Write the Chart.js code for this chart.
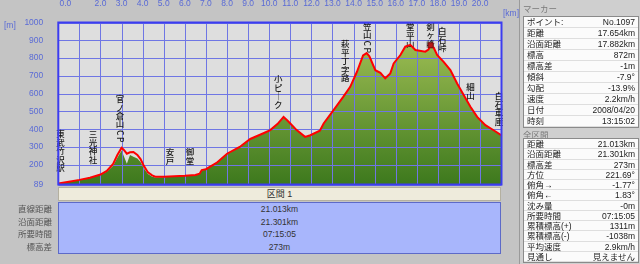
<!DOCTYPE html>
<html>
<head>
<meta charset="utf-8">
<script src="https://cdn.jsdelivr.net/npm/chart.js@4.4.1/dist/chart.umd.min.js"></script>
<style>
body { margin:0; width:640px; height:264px; background:#c4c4c4; overflow:hidden; position:relative;
       font-family:"Liberation Sans","Noto Sans CJK JP",sans-serif; }
#wrap { position:absolute; left:0; top:0; width:520px; height:200px; }
.unit { position:absolute; color:#5a6bd6; font-size:8.5px; }
#band { position:absolute; left:58px; top:187px; width:441px; height:12px; background:#eeebdc;
        border:1px solid #b4b0a0; font-size:9px; color:#333; text-align:center; line-height:12px; }
#sect { position:absolute; left:58px; top:202px; width:441px; height:50px; background:#a8b6fc;
        border:1px solid #5d6ac8; }
#sect div { height:12.5px; line-height:12.5px; text-align:center; font-size:8.5px; color:#333; }
#sectLbl { position:absolute; left:0; top:203px; width:52px; }
#sectLbl div { height:12.5px; line-height:12.5px; text-align:right; font-size:8.5px; color:#555; }
#side { position:absolute; left:519px; top:0; width:121px; height:264px; border-left:1px solid #9a9a9a; background:#cfcfcf; }
.hdr { position:absolute; left:3px; font-size:8.5px; color:#7a7a7a; }
.tbl { position:absolute; left:3px; width:114px; background:#fbfbfb; border:1px solid #8a8a8a; }
.tbl div { position:relative; border-bottom:1px solid #dedede; font-size:8.5px; color:#222; box-sizing:border-box; padding:0 3px; }
.tbl span { position:absolute; right:3px; }
</style>
</head>
<body>
<div id="wrap"><canvas id="chart" width="520" height="200"></canvas></div>
<div class="unit" style="left:4px;top:20px">[m]</div>
<div class="unit" style="left:503px;top:8px">[km]</div>
<div id="band">区間 1</div>
<div id="sectLbl"></div>
<div id="sect"></div>
<div id="side">
  <div class="hdr" style="top:2px">マーカー</div>
  <div class="tbl" id="t1" style="top:16px"></div>
  <div class="hdr" style="top:128px">全区間</div>
  <div class="tbl" id="t2" style="top:138px"></div>
</div>

<script>
// 距離 (km) と標高 (m)
const distKm = [0, 0.5, 1.0, 1.5, 2.0, 2.3, 2.6, 2.8, 3.0, 3.1, 3.25, 3.4, 3.56, 3.75, 3.9, 4.05, 4.25, 4.45, 4.6,
  5.0, 5.5, 6.0, 6.5, 6.7, 6.8, 7.0, 7.2, 7.5, 8.0, 8.6, 9.1, 9.7, 10.05, 10.4, 10.68, 10.85, 11.0, 11.3, 11.7,
  11.95, 12.4, 12.58, 13.05, 13.5, 13.84, 14.16, 14.45, 14.62, 14.75, 15.03, 15.27, 15.5, 15.74, 15.9, 16.22,
  16.45, 16.69, 16.93, 17.4, 17.55, 17.654, 17.8, 17.96, 18.27, 18.59, 18.91, 19.22, 19.54, 19.86, 20.25, 20.64, 21.013];
const elevM = [95, 105, 115, 127, 145, 165, 205, 255, 295, 285, 262, 270, 272, 255, 232, 195, 157, 140, 133,
  132, 135, 138, 143, 150, 170, 175, 190, 210, 262, 300, 345, 376, 395, 430, 469, 450, 432, 395, 357,
  366, 392, 432, 507, 580, 638, 723, 815, 828, 810, 732, 717, 686, 714, 770, 817,
  864, 874, 845, 836, 848, 872, 858, 817, 779, 732, 657, 592, 526, 469, 423, 394, 365];
// 地面の塗り (官ノ倉山付近で線より低い)
const groundM = [95, 105, 115, 127, 145, 160, 195, 240, 280, 250, 205, 255, 245, 235, 215, 180, 148, 132, 128,
  130, 134, 137, 142, 148, 168, 174, 189, 209, 261, 299, 344, 375, 394, 429, 467, 449, 431, 394, 356,
  365, 391, 431, 506, 579, 637, 722, 814, 827, 809, 731, 716, 685, 713, 769, 816,
  863, 873, 844, 835, 847, 870, 857, 816, 778, 731, 656, 591, 525, 468, 422, 393, 364];

const kmTicks = [0, 1, 2, 3, 4, 5, 6, 7, 8, 9, 10, 11, 12, 13, 14, 15, 16, 17, 18, 19, 20];
const kmTickLabels = ['      0.0', '', '2.0', '3.0', '4.0', '5.0', '6.0', '7.0', '8.0', '9.0', '10.0', '11.0', '12.0',
  '13.0', '14.0', '15.0', '16.0', '17.0', '18.0', '19.0', '20.0'];
const mTicks = [89, 200, 300, 400, 500, 600, 700, 800, 900, 1000];

// 地点名 (縦書き) : 位置 km と文字列の上端 m
const spotNames = ['東武竹沢駅', '三光神社', '官ノ倉山CP', '安戸', '御堂', '小ピ｜ク', '萩平丁字路', '笠山CP', '堂平山', '剣ヶ峰', '白石峠', '細山', '白石車庫'];
const spotKm = [0.1, 1.65, 2.93, 5.3, 6.25, 10.43, 13.6, 14.65, 16.69, 17.65, 18.2, 19.54, 20.9];
const spotTopM = [394, 394, 592, 293, 293, 704, 901, 1000, 997, 1000, 975, 659, 608];

const markerKm = [17.654];
const markerM = [872];

const sectLabels = ['直線距離', '沿面距離', '所要時間', '標高差'];
const sectValues = ['21.013km', '21.301km', '07:15:05', '273m'];

const markerRows = [['ポイント:', 'No.1097'], ['距離', '17.654km'], ['沿面距離', '17.882km'], ['標高', '872m'],
  ['標高差', '-1m'], ['傾斜', '-7.9°'], ['勾配', '-13.9%'], ['速度', '2.2km/h'], ['日付', '2008/04/20'], ['時刻', '13:15:02']];
const totalRows = [['距離', '21.013km'], ['沿面距離', '21.301km'], ['標高差', '273m'], ['方位', '221.69°'],
  ['俯角→', '-1.77°'], ['俯角←', '1.83°'], ['沈み量', '-0m'], ['所要時間', '07:15:05'], ['累積標高(+)', '1311m'],
  ['累積標高(-)', '-1038m'], ['平均速度', '2.9km/h'], ['見通し', '見えません']];

/* 下の区間表と右のパネル */
sectLabels.forEach(t => { const d = document.createElement('div'); d.textContent = t; document.getElementById('sectLbl').appendChild(d); });
sectValues.forEach(t => { const d = document.createElement('div'); d.textContent = t; document.getElementById('sect').appendChild(d); });
function fillTable(id, rows, h) {
  const el = document.getElementById(id);
  rows.forEach(r => {
    const d = document.createElement('div');
    d.style.height = h + 'px'; d.style.lineHeight = h + 'px';
    d.textContent = r[0];
    const s = document.createElement('span'); s.textContent = r[1];
    d.appendChild(s); el.appendChild(d);
  });
}
fillTable('t1', markerRows, 11);
fillTable('t2', totalRows, 10.25);

/* グリッド・地点名・枠を描くプラグイン */
const profilePlugin = {
  id: 'profile',
  beforeDatasetsDraw(chart) {
    const a = chart.chartArea, ctx = chart.ctx;
    ctx.save();
    ctx.fillStyle = '#dedede';
    ctx.fillRect(a.left, a.top, a.right - a.left, a.bottom - a.top);
    ctx.restore();
  },
  afterDatasetDraw(chart, args) {
    if (args.index !== 0) return;
    const a = chart.chartArea, ctx = chart.ctx, x = chart.scales.x, y = chart.scales.y;
    ctx.save();
    ctx.strokeStyle = '#6f76e4';
    ctx.lineWidth = 1;
    kmTicks.forEach(k => {
      const px = Math.round(x.getPixelForValue(k)) + 0.5;
      ctx.beginPath(); ctx.moveTo(px, a.top); ctx.lineTo(px, a.bottom); ctx.stroke();
    });
    mTicks.forEach(m => {
      const py = Math.round(y.getPixelForValue(m)) + 0.5;
      ctx.beginPath(); ctx.moveTo(a.left, py); ctx.lineTo(a.right, py); ctx.stroke();
    });
    // 縦書きの地点名
    ctx.fillStyle = '#1a1a1a';
    ctx.font = '500 8.5px "Noto Sans CJK JP"';
    ctx.textAlign = 'center';
    ctx.textBaseline = 'middle';
    spotNames.forEach((name, i) => {
      const px = x.getPixelForValue(spotKm[i]);
      let py = y.getPixelForValue(spotTopM[i]) + 4;
      for (const ch of name) {
        if (/[A-Za-z]/.test(ch)) {
          ctx.save(); ctx.translate(px, py); ctx.rotate(Math.PI / 2); ctx.fillText(ch, 0, 0); ctx.restore();
          py += 7;
        } else {
          ctx.fillText(ch, px, py);
          py += 8.4;
        }
      }
    });
    ctx.restore();
  },
  afterDraw(chart) {
    const a = chart.chartArea, ctx = chart.ctx;
    ctx.save();
    ctx.strokeStyle = '#3c3cf0';
    ctx.lineWidth = 2;
    ctx.strokeRect(a.left, a.top, a.right - a.left, a.bottom - a.top);
    ctx.restore();
  }
};

Chart.defaults.font.family = '"Liberation Sans", sans-serif';
Chart.defaults.font.size = 8.5;

const ctx = document.querySelector('#chart').getContext('2d');
new Chart(ctx, {
  type: 'line',
  data: {
    datasets: [
      {
        label: 'ground',
        data: distKm.map((k, i) => ({ x: k, y: groundM[i] })),
        fill: 'start',
        borderWidth: 0,
        pointRadius: 0,
        order: 3,
        backgroundColor: function(c) {
          const a = c.chart.chartArea;
          if (!a) return '#6e9a36';
          const g = c.chart.ctx.createLinearGradient(0, a.top, 0, a.bottom);
          g.addColorStop(0, '#a9c55a');
          g.addColorStop(1, '#3d791d');
          return g;
        }
      },
      {
        label: 'track',
        data: distKm.map((k, i) => ({ x: k, y: elevM[i] })),
        borderColor: '#ff0000',
        borderWidth: 2,
        pointRadius: 0,
        fill: false,
        order: 2
      },
      {
        label: 'marker',
        type: 'scatter',
        data: markerKm.map((k, i) => ({ x: k, y: markerM[i] })),
        pointStyle: 'rect',
        pointRadius: 3.5,
        backgroundColor: '#b81818',
        borderColor: '#7a1010',
        borderWidth: 1,
        order: 1
      }
    ]
  },
  options: {
    responsive: false,
    animation: false,
    events: [],
    layout: { padding: { top: 0, left: 0, right: 18.5, bottom: 15.5 } },
    plugins: { legend: { display: false }, tooltip: { enabled: false } },
    scales: {
      x: {
        type: 'linear',
        position: 'top',
        min: 0,
        max: 21.013,
        afterBuildTicks: s => { s.ticks = kmTicks.map(v => ({ value: v })); },
        afterFit: s => { s.height = 22.5; },
        grid: { display: false },
        border: { display: false },
        ticks: {
          color: '#5a6bd6',
          padding: 6,
          maxRotation: 0,
          autoSkip: false,
          callback: (v, i) => kmTickLabels[i]
        }
      },
      y: {
        min: 89,
        max: 1000,
        afterBuildTicks: s => { s.ticks = mTicks.map(v => ({ value: v })); },
        afterFit: s => { s.width = 58.3; },
        grid: { display: false },
        border: { display: false },
        ticks: { color: '#5a6bd6', padding: 7, autoSkip: false, callback: v => String(v) }
      }
    }
  },
  plugins: [profilePlugin]
});
</script>
</body>
</html>
